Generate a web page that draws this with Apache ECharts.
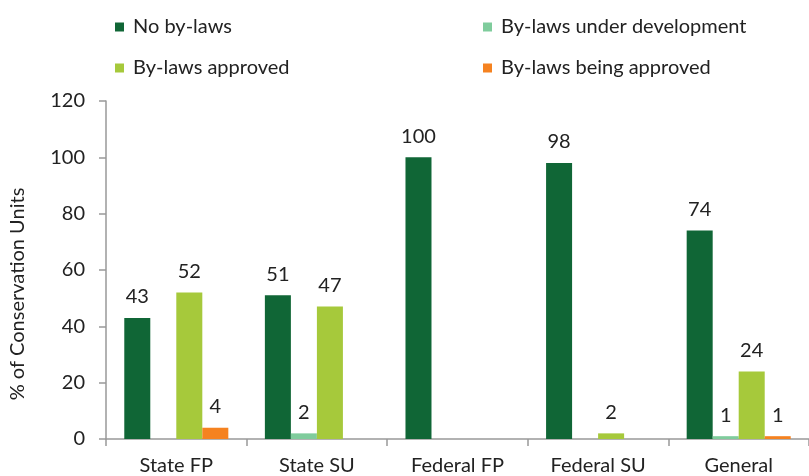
<!DOCTYPE html>
<html><head><meta charset="utf-8">
<script src="https://cdn.jsdelivr.net/npm/echarts@6/dist/echarts.min.js"></script>
<style>html,body{margin:0;padding:0;background:#fff}#c{width:809px;height:476px}</style>
</head><body><div id="c"></div>
<script>
const categories = ['State FP', 'State SU', 'Federal FP', 'Federal SU', 'General'];
const noBylaws = [43, 51, 100, 98, 74];
const underDevelopment = [0, 2, 0, 0, 1];
const approved = [52, 47, 0, 2, 24];
const beingApproved = [4, 0, 0, 0, 1];
const yTicks = [0, 20, 40, 60, 80, 100, 120];

const font = 'Lato, "Open Sans", sans-serif';
const txt = '#222';
const FS = 20;
function mk(name, data, color) {
  return {
    name, type: 'bar', data, barGap: '0%', barCategoryGap: '26%',
    itemStyle: { color },
    label: {
      show: true, position: 'top', distance: 11, color: txt, fontSize: FS, fontFamily: font,
      formatter: p => p.value === 0 ? '' : String(p.value)
    }
  };
}
const legendText = { fontSize: FS, color: txt, fontFamily: font, padding: [0, 0, 0, 4] };
const chart = echarts.init(document.getElementById('c'));
chart.setOption({
  animation: false,
  legend: [
    { data: ['No by-laws', 'By-laws approved'], orient: 'vertical', left: 110, top: 12, itemGap: 21,
      itemWidth: 9, itemHeight: 9, icon: 'rect', textStyle: legendText },
    { data: ['By-laws under development', 'By-laws being approved'], orient: 'vertical', left: 478, top: 12, itemGap: 21,
      itemWidth: 9, itemHeight: 9, icon: 'rect', textStyle: legendText }
  ],
  grid: { left: 103, right: -9, top: 101, bottom: 37, containLabel: false },
  xAxis: {
    type: 'category', data: categories,
    axisLine: { lineStyle: { color: '#999', width: 1.5 } },
    axisTick: { show: true, length: 7, lineStyle: { color: '#999', width: 1.5 } },
    axisLabel: { fontSize: FS, color: txt, fontFamily: font, margin: 17 }
  },
  yAxis: {
    type: 'value', min: 0, max: 120, interval: 20,
    name: '% of Conservation Units', nameLocation: 'middle', nameGap: 78, nameRotate: 90,
    nameTextStyle: { fontSize: FS, color: txt, fontFamily: font, padding: [0, 48, 0, 0] },
    axisLine: { show: true, lineStyle: { color: '#999', width: 1.5 } },
    axisTick: { show: true, length: 7, lineStyle: { color: '#999', width: 1.5 } },
    splitLine: { show: false },
    axisLabel: { fontSize: FS, color: txt, fontFamily: font, margin: 21,
      formatter: v => yTicks.includes(v) ? String(v) : '' }
  },
  series: [
    mk('No by-laws', noBylaws, '#106636'),
    mk('By-laws under development', underDevelopment, '#7fcc9c'),
    mk('By-laws approved', approved, '#a6c93b'),
    mk('By-laws being approved', beingApproved, '#f58220')
  ]
});
</script></body></html>
